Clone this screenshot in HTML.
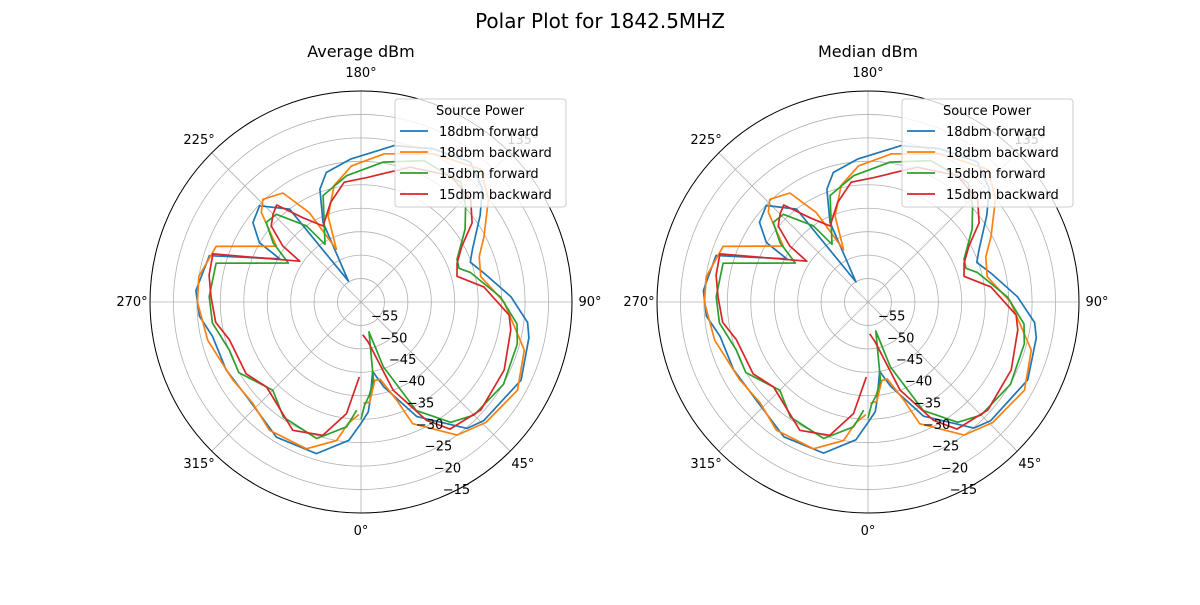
<!DOCTYPE html>
<html><head><meta charset="utf-8">
<style>
body{margin:0;background:#fff;width:1200px;height:600px;overflow:hidden;font-family:"Liberation Sans","DejaVu Sans",sans-serif}
svg text{font-family:"DejaVu Sans","Liberation Sans",sans-serif}
</style></head>
<body>
<svg id="chart" width="1200" height="600" xmlns="http://www.w3.org/2000/svg">
<rect width="1200" height="600" fill="#fff"/>
<text x="600" y="28" font-size="20" text-anchor="middle" fill="#000">Polar Plot for 1842.5MHZ</text>
<g id="plots"></g>
</svg>
<script>
// ---- data (theta in degrees, values in dBm) ----
const seriesNames = ["18dbm forward","18dbm backward","15dbm forward","15dbm backward"];
const seriesColors = ["#1f77b4","#ff7f0e","#2ca02c","#d62728"];
const radialTicks = [-55,-50,-45,-40,-35,-30,-25,-20,-15];
const angleTicks = [0,45,90,135,180,225,270,315];

const avgBlueTheta = [0,3.8,5.3,9.5,15,26,40,46,64,78,83,92,103,110,115,126,133,142,155,168,184,195,200,205.5,211,217.6,226.5,233.7,239.7,242,253,266,275,283,296.7,311,328,343.6,355,360];
const avgBlueVal   = [-34.1,-36.5,-39,-45,-41.3,-32.8,-24.8,-23.6,-22,-23.4,-24.2,-28,-33,-35.2,-33.8,-28.6,-24.6,-22.1,-23.9,-25.9,-29.4,-31.4,-34.4,-41.2,-54.8,-35,-30.2,-31.4,-34.9,-40.4,-26.2,-24.7,-25.4,-27.5,-27.8,-28.3,-26,-26.3,-30.4,-34.1];
const avgOrangeTheta = [1.3,5,10,14,20,23,35.8,46,60.6,73.6,90,102,111,118,129,138,154,171,184,193,201,205,210,215.6,223.7,228,236.6,249,261,270,284,301,313,324.5,339.6,350,354,359];
const avgOrangeVal   = [-38.4,-38.6,-43,-43,-37.7,-31.8,-25,-23,-21.7,-23.7,-29.5,-33.9,-33,-30.3,-25,-21.9,-24.8,-28,-30.9,-34.5,-40.4,-47.6,-38,-31.4,-29.7,-31.4,-38.4,-26.9,-25,-25.1,-26.3,-28,-28.4,-26.4,-26.6,-30,-34,-36];
const avgGreenTheta = [0,2,5,9,15,19,27,36.7,45,60,75,82,92,105,109,114,125,132.6,140,156,171,186.5,199.6,212,215.7,224,230,236,241.8,255,268,278,290,300,315,326,342,353.4,357.7];
const avgGreenVal   = [-35,-38,-40,-43,-53.4,-45.4,-34,-28,-25.9,-24.9,-25.5,-26.4,-30.2,-35.8,-37.9,-37.6,-32.9,-29.7,-26.8,-27,-29.8,-32.9,-35.9,-45.5,-40,-34,-33.6,-37.4,-42.4,-28,-27.6,-28,-30.1,-29.9,-33.4,-30.4,-29.4,-33.2,-36.9];
const avgRedTheta = [3,10,20,29,35,48,64.6,79.5,85,97,105,112,119,125.5,133,144.7,160,177,188,197,206.5,214.5,221,225,229.7,234.4,236.3,252,260,268,278,286,302,312,332,344,352.6,358.7];
const avgRedVal   = [-53,-51.4,-40,-31.1,-26.9,-25.6,-26.2,-27.5,-28.3,-33.6,-38.8,-37.9,-35.4,-30.9,-28,-27,-29.4,-33.4,-34.2,-37.8,-41.9,-38.2,-32.6,-33.5,-34.9,-39.5,-44.3,-26.8,-27.1,-28,-28.7,-30.8,-31.1,-32.9,-29,-30.4,-36,-44];

const medBlueTheta = avgBlueTheta;
const medBlueVal   = [-34.3,-36.6,-39,-45,-41.4,-32.9,-24.9,-23.6,-22.1,-23.3,-24.2,-28.1,-33,-35.3,-33.9,-28.7,-24.6,-22.1,-23.9,-25.9,-29.4,-31.4,-34.4,-41.2,-55,-35,-30.1,-31.3,-34.9,-40.4,-26.1,-24.8,-25.4,-27.6,-27.9,-28.3,-26.1,-26.4,-30.5,-34.3];
const medOrangeTheta = avgOrangeTheta;
const medOrangeVal   = [-38.4,-38.7,-43,-43.1,-37.8,-31.8,-25,-23,-21.7,-23.7,-29.6,-34,-33.1,-30.3,-25,-21.9,-24.8,-28,-30.9,-34.5,-40.4,-47.7,-38,-31.4,-29.7,-31.4,-38.3,-26.9,-25.1,-25.1,-26.3,-28,-28.5,-26.4,-26.6,-30,-34,-36];
const medGreenTheta = avgGreenTheta;
const medGreenVal   = [-35.2,-38.2,-40,-43,-53.6,-45.4,-34,-28,-25.9,-24.9,-25.5,-26.4,-30.2,-35.8,-37.9,-37.6,-32.9,-29.7,-26.8,-27,-29.8,-32.9,-35.9,-45.5,-40,-34,-33.6,-37.4,-42.4,-28,-27.6,-28,-30.1,-29.9,-33.4,-30.4,-29.4,-33.2,-36.9];
const medRedTheta = avgRedTheta;
const medRedVal   = [-53.2,-51.4,-40,-31.1,-26.9,-25.6,-26.2,-27.5,-28.3,-33.6,-38.8,-37.9,-35.4,-30.9,-28,-27,-29.4,-33.4,-34.2,-37.8,-41.9,-38.2,-32.6,-33.5,-34.9,-39.5,-44.3,-26.8,-27.1,-28,-28.7,-30.8,-31.1,-32.9,-29,-30.4,-36,-44];

const NS = "http://www.w3.org/2000/svg";
const R = 211, RMIN = -60, RMAX = -15;
function mk(tag, attrs, parent){const e=document.createElementNS(NS,tag);for(const k in attrs)e.setAttribute(k,attrs[k]);parent.appendChild(e);return e;}
function rScale(v){return (v-RMIN)/(RMAX-RMIN)*R;}
function pt(cx,cy,th,r){const a=th*Math.PI/180;return [cx+r*Math.sin(a), cy+r*Math.cos(a)];}

function drawPolar(cx,cy,title,prefix,thetas,vals){
  const root=document.getElementById('plots');
  const g=mk('g',{},root);
  
  
  const t=mk('text',{x:cx,y:57,'font-size':16,'text-anchor':'middle',fill:'#000'},g);
  t.textContent=title;
  
  
  radialTicks.forEach(v=>{
    const c=mk('circle',{cx:cx,cy:cy,r:rScale(v),fill:'none',stroke:'#b0b0b0','stroke-width':0.8},g);
    
    
  });
  angleTicks.forEach(a=>{
    const p=pt(cx,cy,a,R);
    const l=mk('line',{x1:cx,y1:cy,x2:p[0],y2:p[1],stroke:'#b0b0b0','stroke-width':0.8},g);
    
    
    const q=pt(cx,cy,a,R+18);
    const tx=mk('text',{x:q[0],y:q[1]+4,'font-size':13,'text-anchor':'middle',fill:'#000'},g);
    tx.textContent=a+'°';
    
    
  });
  for(let s=0;s<4;s++){
    let d='';
    thetas[s].forEach((th,i)=>{const p=pt(cx,cy,th,rScale(vals[s][i]));d+=(i?'L':'M')+p[0].toFixed(1)+','+p[1].toFixed(1);});
    const path=mk('path',{d:d,fill:'none',stroke:seriesColors[s],'stroke-width':1.7,'stroke-linejoin':'round'},g);
    
    
  }
  const outer=mk('circle',{cx:cx,cy:cy,r:R,fill:'none',stroke:'#000','stroke-width':1},g);
  
  
  radialTicks.forEach(v=>{
    const p=pt(cx,cy,22.5,rScale(v));
    const tx=mk('text',{x:p[0]+1,y:p[1]-3,'font-size':13,'text-anchor':'start',fill:'#000'},g);
    tx.textContent='\u2212'+Math.abs(v);
    
    
  });
  const lx=cx+34, ly=99;
  const lg=mk('g',{},g);
  
  
  mk('rect',{x:lx,y:ly,width:171,height:108,rx:3,fill:'#fff','fill-opacity':0.8,stroke:'#ccc'},lg);
  const lt=mk('text',{x:lx+85,y:ly+16,'font-size':13,'text-anchor':'middle',fill:'#000'},lg);
  lt.textContent='Source Power';
  
  
  for(let s=0;s<4;s++){
    const y=ly+32+s*21;
    const ln=mk('line',{x1:lx+5,y1:y,x2:lx+33,y2:y,stroke:seriesColors[s],'stroke-width':1.8},lg);
    
    
    const tx=mk('text',{x:lx+44,y:y+5,'font-size':13,fill:'#000'},lg);
    tx.textContent=seriesNames[s];
    
    
  }
}
drawPolar(361,302,'Average dBm','average',
  [avgBlueTheta,avgOrangeTheta,avgGreenTheta,avgRedTheta],
  [avgBlueVal,avgOrangeVal,avgGreenVal,avgRedVal]);
drawPolar(868,302,'Median dBm','median',
  [medBlueTheta,medOrangeTheta,medGreenTheta,medRedTheta],
  [medBlueVal,medOrangeVal,medGreenVal,medRedVal]);
</script>
</body></html>
